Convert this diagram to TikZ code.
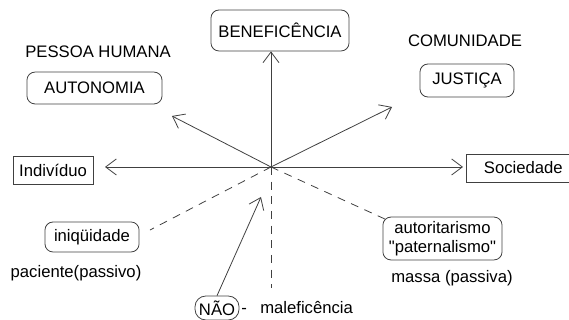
\documentclass[tikz,border=0pt]{standalone}
\usepackage{fontspec}
\setmainfont{Liberation Sans}
\usetikzlibrary{arrows.meta}

\begin{document}
\begin{tikzpicture}[draw=black!75, line width=0.6pt, font=\fontsize{12.5}{14.5}\selectfont,
	seta/.style={-{Straight Barb[length=8pt,width=12pt]}},
	tracejado/.style={dash pattern=on 6pt off 5pt},
	caixa/.style={draw, rounded corners=6pt, inner sep=0pt},
	quadro/.style={draw, inner sep=0pt}]
	\useasboundingbox (-7.144, -4.033) rectangle (7.855, 4.402);
	\coordinate (O) at (0, 0);
	% principios
	\node (Ben) at ( 0.237,  3.598)	[caixa, minimum width=3.64cm, minimum height=1.08cm]	{BENEFICÊNCIA};
	\node (Aut) at (-4.653,  2.082)	[caixa, minimum width=3.56cm, minimum height=0.84cm]	{AUTONOMIA};
	\node (Jus) at ( 5.167,  2.280)	[caixa, minimum width=2.48cm, minimum height=0.87cm]	{JUSTIÇA};
	\node (Pes) at (-4.560,  3.031)	{PESSOA HUMANA};
	\node (Com) at ( 5.114,  3.321)	{COMUNIDADE};
	% eixo horizontal
	\node (Ind) at (-5.746, -0.079)	[quadro, minimum width=2.11cm, minimum height=0.74cm]	{Indivíduo};
	\node (Soc) at ( 6.650, -0.026)	[quadro, minimum width=3.02cm, minimum height=0.74cm]	{Sociedade\hspace{0.3cm}};
	% desvios
	\node (Ini) at (-4.718, -1.845)	[caixa, minimum width=2.48cm, minimum height=0.79cm]	{iniqüidade};
	\node (Pac) at (-5.140, -2.794)	{paciente(passivo)};
	\node (Nao) at (-1.423, -3.717)	[caixa, rounded corners=8pt, minimum width=1.16cm, minimum height=0.63cm]	{NÃO};
	\node (Mal) at (-0.791, -3.717)	[anchor=west, inner sep=0pt]	{-\hspace{10pt}maleficência};
	\node (Pat) at ( 4.520, -1.885)	[caixa, minimum width=3.14cm, minimum height=1.13cm, align=center]	{autoritarismo\\\textquotedbl paternalismo\textquotedbl};
	\node (Mas) at ( 4.771, -2.926)	{massa (passiva)};
	% pontas livres
	\coordinate (pA) at (-2.610,  1.344);
	\coordinate (pJ) at ( 3.190,  1.582);
	\coordinate (pI) at (-4.376,  0);
	\coordinate (pS) at ( 5.061,  0);
	\coordinate (pN) at (-0.264, -0.791);
	\coordinate (dI) at (-3.190, -1.661);
	\coordinate (dM) at ( 0,     -3.190);
	\coordinate (dP) at ( 3.058, -1.397);
	\draw[seta] (O) -- (O |- Ben.south);
	\draw[seta] (O) -- (pA);
	\draw[seta] (O) -- (pJ);
	\draw[seta] (O) -- (pI);
	\draw[seta] (O) -- (pS);
	\draw[seta] (Nao.north) -- (pN);
	\draw[tracejado] (O) -- (dI);
	\draw[tracejado] (O) -- (dM);
	\draw[tracejado] (O) -- (dP);
\end{tikzpicture}
\end{document}
